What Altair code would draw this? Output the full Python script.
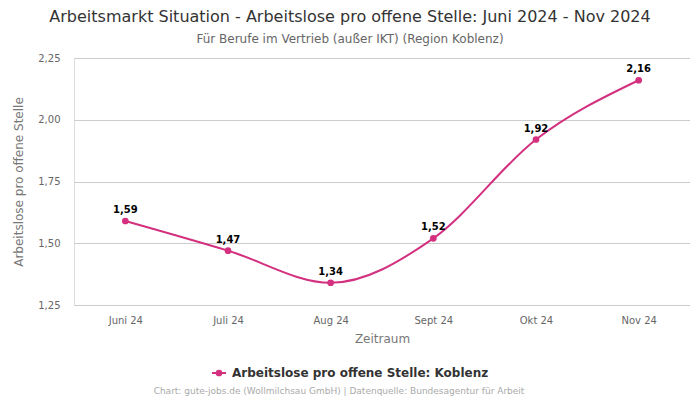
import altair as alt
import pandas as pd

months = ["Juni 24", "Juli 24", "Aug 24", "Sept 24", "Okt 24", "Nov 24"]
values = [1.59, 1.47, 1.34, 1.52, 1.92, 2.16]
series_name = "Arbeitslose pro offene Stelle: Koblenz"
footer = "Chart: gute-jobs.de (Wollmilchsau GmbH) | Datenquelle: Bundesagentur für Arbeit"

df = pd.DataFrame({"Monat": months, "Wert": values})
COLOR = "#d3307f"
FONT = "DejaVu Sans"

x = alt.X("Monat:N", sort=months, scale=alt.Scale(paddingInner=0, paddingOuter=0.0),
          axis=alt.Axis(title="Zeitraum", labelAngle=0, ticks=False, domain=False, grid=False,
                        labelColor="#666", labelFontSize=10, labelPadding=10,
                        titleColor="#777", titleFontSize=12, titleFontWeight="normal",
                        titlePadding=8))
y = alt.Y("Wert:Q", scale=alt.Scale(domain=[1.25, 2.25], nice=False, zero=False),
          axis=alt.Axis(title="Arbeitslose pro offene Stelle", values=[1.25, 1.5, 1.75, 2.0, 2.25],
                        labelExpr="replace(format(datum.value, '.2f'), '.', ',')",
                        ticks=False, domain=False, gridColor="#cccccc",
                        labelColor="#666", labelFontSize=10, labelPadding=14,
                        titleColor="#777", titleFontSize=12, titleFontWeight="normal",
                        titlePadding=12))

base = alt.Chart(df).encode(x=x, y=y)
line = base.mark_line(color=COLOR, strokeWidth=2, interpolate="monotone")
pts = base.mark_circle(color=COLOR, size=45, opacity=1)
labels = base.transform_calculate(
    lab="replace(format(datum.Wert, '.2f'), '.', ',')"
).mark_text(dy=-11, fontSize=10, fontWeight="bold", color="#000", font=FONT).encode(text="lab:N")

leg_df = pd.DataFrame({"name": [series_name]})
leg_line = alt.Chart(leg_df).mark_rule(color=COLOR, strokeWidth=2).encode(
    x=alt.value(138), x2=alt.value(152), y=alt.value(315))
leg_pt = alt.Chart(leg_df).mark_circle(color=COLOR, size=45, opacity=1).encode(
    x=alt.value(145), y=alt.value(315))
leg_txt = alt.Chart(leg_df).mark_text(align="left", baseline="middle", fontSize=12,
                                      fontWeight="bold", color="#333", font=FONT).encode(
    x=alt.value(158), y=alt.value(315), text="name:N")
foot = alt.Chart(pd.DataFrame({"t": [footer]})).mark_text(
    align="center", baseline="middle", fontSize=9, color="#aaa", font=FONT).encode(
    x=alt.value(265), y=alt.value(333), text="t:N")

chart = alt.layer(line, pts, labels, leg_line, leg_pt, leg_txt, foot).properties(
    width=616, height=247,
    autosize=alt.AutoSizeParams(type="none"),
    padding={"left": 66, "top": 50, "right": 0, "bottom": 96},
    title=alt.TitleParams(
        text="Arbeitsmarkt Situation - Arbeitslose pro offene Stelle: Juni 2024 - Nov 2024",
        subtitle="Für Berufe im Vertrieb (außer IKT) (Region Koblenz)",
        anchor="middle", fontSize=16, fontWeight="normal", color="#333",
        subtitleFontSize=12, subtitleColor="#666", font=FONT, subtitleFont=FONT,
        dx=-32, offset=8, subtitlePadding=9),
).configure_view(strokeWidth=0, stroke="transparent").configure(font=FONT)

chart.save("out.html", embed_options={"renderer": "svg", "actions": False})
